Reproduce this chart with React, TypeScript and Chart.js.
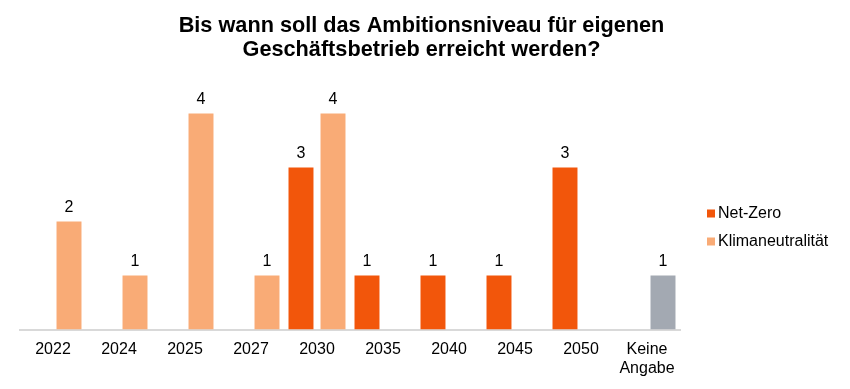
import React, { useEffect, useRef } from 'react';
import { Chart, registerables } from 'chart.js';

Chart.register(...registerables);

const TITLE = ['Bis wann soll das Ambitionsniveau für eigenen', 'Geschäftsbetrieb erreicht werden?'];
const categories: (string | string[])[] = ['2022', '2024', '2025', '2027', '2030', '2035', '2040', '2045', '2050', ['Keine', 'Angabe']];
const netZero = [null, null, null, null, 3, 1, 1, 1, 3, null];
const klimaneutral = [2, 1, 4, 1, 4, null, null, null, null, null];
const keineAngabe = [null, null, null, null, null, null, null, null, null, 1];
const seriesLabels = ['Net-Zero', 'Klimaneutralität'];

const COLORS = { netZero: '#F2560B', klima: '#F9AB76', none: '#A3A9B2', text: '#000000', axis: '#D9D9D9' };
const FONT = "'Liberation Sans', Arial, sans-serif";

const valueLabels = {
  id: 'valueLabels',
  afterDatasetsDraw(chart: any) {
    const ctx = chart.ctx;
    ctx.save();
    ctx.font = `16px ${FONT}`;
    ctx.fillStyle = COLORS.text;
    ctx.textAlign = 'center';
    ctx.textBaseline = 'alphabetic';
    chart.data.datasets.forEach((ds: any, di: number) => {
      const meta = chart.getDatasetMeta(di);
      meta.data.forEach((el: any, i: number) => {
        const v = ds.data[i];
        if (v == null) return;
        ctx.fillText(String(v), el.x, el.y - 10);
      });
    });
    ctx.restore();
  },
};

const sideLegend = {
  id: 'sideLegend',
  afterDraw(chart: any) {
    const { ctx, chartArea } = chart;
    const x = chartArea.right + 27;
    const items = [
      { text: seriesLabels[0], color: COLORS.netZero },
      { text: seriesLabels[1], color: COLORS.klima },
    ];
    ctx.save();
    ctx.font = `16px ${FONT}`;
    ctx.textBaseline = 'middle';
    ctx.textAlign = 'left';
    items.forEach((it, k) => {
      const cy = chartArea.top + 127 + k * 28;
      ctx.fillStyle = it.color;
      ctx.fillRect(x, cy - 4, 8, 8);
      ctx.fillStyle = COLORS.text;
      ctx.fillText(it.text, x + 11, cy);
    });
    ctx.restore();
  },
};

export default function App() {
  const ref = useRef<HTMLCanvasElement | null>(null);
  useEffect(() => {
    document.body.style.margin = '0';
    if (!ref.current) return;
    const second = klimaneutral.map((v, i) => (v ?? keineAngabe[i]));
    const secondColors = klimaneutral.map((v, i) => (v == null && keineAngabe[i] != null ? COLORS.none : COLORS.klima));
    const chart = new Chart(ref.current, {
      type: 'bar',
      data: {
        labels: categories as any,
        datasets: [
          { label: seriesLabels[0], data: netZero as any, backgroundColor: COLORS.netZero, categoryPercentage: 0.97, barPercentage: 0.78 },
          { label: seriesLabels[1], data: second as any, backgroundColor: secondColors, categoryPercentage: 0.97, barPercentage: 0.78 },
        ],
      },
      options: {
        responsive: false,
        animation: false,
        layout: { padding: { left: 0, right: 7, top: 0, bottom: 0 } },
        plugins: {
          legend: { display: false },
          tooltip: { enabled: false },
          title: {
            display: true,
            text: TITLE,
            color: COLORS.text,
            font: { family: FONT, size: 21.7, weight: 'bold', lineHeight: '24px' as any },
            padding: { top: 14, bottom: 24.5 },
          },
        },
        scales: {
          x: {
            grid: { display: false, drawTicks: false },
            border: { display: true, color: COLORS.axis, width: 2 },
            ticks: { color: COLORS.text, font: { family: FONT, size: 16 }, padding: 10, maxRotation: 0, autoSkip: false },
            afterFit: (s: any) => { s.height = 59.5; },
          },
          y: {
            min: 0,
            max: 4.5,
            grid: { display: false },
            border: { display: false },
            ticks: { display: false },
            afterFit: (s: any) => { s.width = 20; },
          },
          y2: {
            position: 'right',
            grid: { display: false },
            border: { display: false },
            ticks: { display: false },
            afterFit: (s: any) => { s.width = 163; },
          },
        },
      },
      plugins: [valueLabels, sideLegend],
    });
    return () => chart.destroy();
  }, []);
  return (
    <div style={{ width: 850, height: 389 }}>
      <canvas ref={ref} width={850} height={389} />
    </div>
  );
}
